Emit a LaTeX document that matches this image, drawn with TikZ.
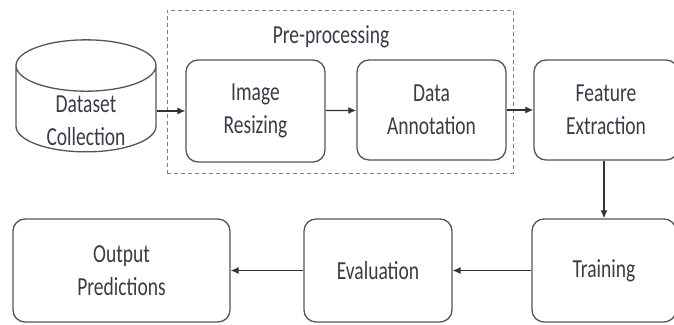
\documentclass[tikz,border=0pt]{standalone}
\usepackage{fontspec}
\setmainfont{Carlito}[FakeStretch=0.75]
\usepackage{xcolor}
\usepackage{tikz}
\usetikzlibrary{shapes.geometric,arrows.meta,positioning}

\definecolor{linegray}{HTML}{555555}
\definecolor{txtgray}{HTML}{3A3A48}

\begin{document}
\begin{tikzpicture}[x=1pt,y=-1pt,
    stage/.style={draw=linegray, line width=1.3pt, rounded corners=12pt,
        align=center, text=txtgray, inner sep=0pt,
        font=\fontsize{26}{33}\selectfont},
    db/.style={cylinder, shape border rotate=90, aspect=0.65, draw=linegray,
        line width=1.3pt, align=center, text=txtgray, inner sep=0pt,
        font=\fontsize{26}{33}\selectfont},
    prebox/.style={draw=gray, line width=1pt, dashed, dash pattern=on 4pt off 3pt},
    flow/.style={-{Latex[length=8pt,width=7pt]}, draw=black!80, line width=1.2pt}]

    % Page frame
    \useasboundingbox (0,0) rectangle (674,324);

    % Pre-processing group (dashed)
    \node[prebox, minimum width=346pt, minimum height=163pt] (pre) at (340,91.5) {};
    \node[text=txtgray, font=\fontsize{26}{33}\selectfont] (prelabel) at (331,37) {Pre-processing};

    % Top row
    \node[db, minimum width=140pt, minimum height=112pt] (dataset) at (86,109)
        {\raisebox{-20pt}[0pt][0pt]{\begin{tabular}{@{}c@{}}Dataset\\Collection\end{tabular}}};
    \node[stage, minimum width=139pt, minimum height=102pt] (resize) at (255.5,111) {Image\\Resizing};
    \node[stage, minimum width=149pt, minimum height=100pt] (annot) at (431.5,110) {Data\\Annotation};
    \node[stage, minimum width=144pt, minimum height=100pt] (feature) at (606,110) {Feature\\Extraction};

    % Bottom row
    \node[stage, minimum width=144pt, minimum height=103pt] (train) at (604,270.5) {Training};
    \node[stage, minimum width=148pt, minimum height=103pt] (eval) at (378,270.5) {Evaluation};
    \node[stage, minimum width=217pt, minimum height=103pt] (output) at (121.5,270.5) {Output\\Predictions};

    % Connectors
    \draw[flow] (dataset.east |- resize.west) -- (resize.west);
    \draw[flow] (resize) -- (annot);
    \draw[flow] (annot) -- (feature);
    \draw[flow] (feature.south -| train.north) -- (train.north);
    \draw[flow] (train) -- (eval);
    \draw[flow] (eval) -- (output);

\end{tikzpicture}
\end{document}
